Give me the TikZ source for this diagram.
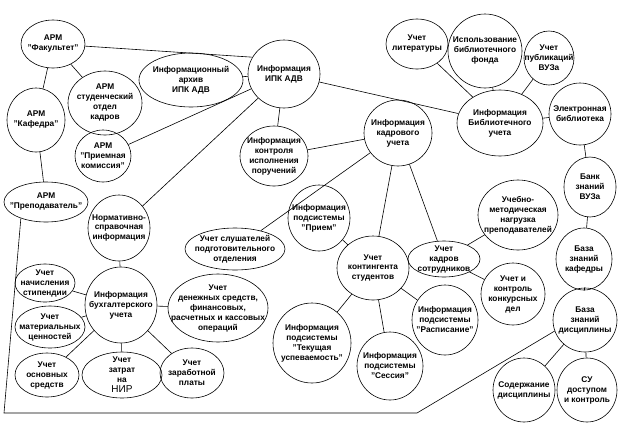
\documentclass[tikz,border=0pt]{standalone}
\usepackage{fontspec}
\setmainfont{Liberation Sans}
\usetikzlibrary{shapes.geometric}
\begin{document}
\begin{tikzpicture}[x=1pt, y=-1pt, line width=0.6pt,
    bub/.style={draw, ellipse, align=center, inner xsep=-16pt, inner ysep=-5pt,
        font=\fontsize{8.3}{10}\selectfont\bfseries},
    sz/.style 2 args={minimum width=#1pt, minimum height=#2pt}]
    \useasboundingbox (0,0) rectangle (619,424);
    % upper left: ARM nodes
    \node[bub, sz={64}{48}] (fak) at (53,44) {АРМ\\"Факультет"};
    \node[bub, sz={58}{64}] (kaf) at (36,120) {АРМ\\"Кафедра"};
    \node[bub, sz={74}{64}] (sok) at (105,103) {АРМ\\студенческий\\отдел\\кадров};
    \node[bub, sz={104}{54}] (arh) at (191,80) {Информационный\\архив\\ИПК АДВ};
    \node[bub, sz={72}{68}] (ipk) at (284,74) {Информация\\ИПК АДВ};
    \node[bub, sz={56}{52}] (prk) at (103,156) {АРМ\\"Приемная\\комиссия"};
    \node[bub, sz={84}{40}] (prep) at (46,202) {АРМ\\"Преподаватель"};
    \node[bub, sz={68}{60}] (kon) at (274,156) {Информация\\контроля\\исполнения\\поручений};
    % library
    \node[bub, sz={68}{66}] (kad) at (398,133) {Информация\\кадрового\\учета};
    \node[bub, sz={62}{50}] (lit) at (417,44) {Учет\\литературы};
    \node[bub, sz={74}{74}] (isp) at (485,51) {Использование\\библиотечного\\фонда};
    \node[bub, sz={50}{54}] (pub) at (549,58) {Учет\\публикаций\\ВУЗа};
    \node[bub, sz={86}{66}] (bib) at (500,123) {Информация\\Библиотечного\\учета};
    \node[bub, sz={62}{62}] (ele) at (580,114) {Электронная\\библиотека};
    \node[bub, sz={52}{60}] (bank) at (590,187) {Банк\\знаний\\ВУЗа};
    \node[bub, sz={80}{70}] (ucheb) at (518,215) {Учебно-\\методическая\\нагрузка\\преподавателей};
    % middle
    \node[bub, sz={62}{66}] (norm) at (119,228) {Нормативно-\\справочная\\информация};
    \node[bub, sz={100}{42}] (slu) at (235,249) {Учет слушателей\\подготовительного\\отделения};
    \node[bub, sz={62}{66}] (pri) at (319,218) {Информация\\подсистемы\\"Прием"};
    \node[bub, sz={72}{64}] (kont) at (373,268) {Учет\\контингента\\студентов};
    \node[bub, sz={72}{36}] (ksot) at (444,259) {Учет\\кадров\\сотрудников};
    \node[bub, sz={64}{62}] (konk) at (513,294) {Учет и\\контроль\\конкурсных\\дел};
    \node[bub, sz={56}{62}] (bkaf) at (584,259) {База\\знаний\\кафедры};
    \node[bub, sz={64}{64}] (bdis) at (585,320) {База\\знаний\\дисциплины};
    \node[bub, sz={66}{70}] (rasp) at (445,320) {Информация\\подсистемы\\"Расписание"};
    \node[bub, sz={66}{68}] (ses) at (390,366) {Информация\\подсистемы\\"Сессия"};
    \node[bub, sz={78}{80}] (tek) at (312,343) {Информация\\подсистемы\\"Текущая\\успеваемость"};
    \node[bub, sz={62}{64}] (sod) at (524,390) {Содержание\\дисциплины};
    \node[bub, sz={60}{64}] (su) at (587,390) {СУ\\доступом\\и контроль};
    % accounting
    \node[bub, sz={72}{76}] (buh) at (121,305) {Информация\\бухгалтерского\\учета};
    \node[bub, sz={60}{38}] (sti) at (45,283) {Учет\\начисления\\стипендии};
    \node[bub, sz={70}{42}] (mat) at (50,327) {Учет\\материальных\\ценностей};
    \node[bub, sz={100}{68}] (den) at (218,308) {Учет\\денежных средств,\\финансовых,\\расчетных и кассовых\\операций};
    \node[bub, sz={64}{44}] (osn) at (47,375) {Учет\\основных\\средств};
    \node[bub, sz={80}{46}] (nir) at (122,375) {Учет\\затрат\\на\\{\fontsize{10}{10}\selectfont\mdseries НИР}};
    \node[bub, sz={64}{50}] (zar) at (192,373) {Учет\\заработной\\платы};
    % connectors
    \draw (fak) -- (kaf);
    \draw (fak) -- (sok);
    \draw (fak) -- (ipk.152);
    \draw (kaf) -- (prep);
    \draw (arh) -- (ipk);
    \draw (ipk) -- (prk);
    \draw (ipk) -- (norm);
    \draw (ipk) -- (kon);
    \draw (ipk) -- (bib);
    \draw (kon) -- (kad);
    \draw (kad) -- (slu);
    \draw (kad) -- (kont);
    \draw (kad) -- (ksot);
    \draw (pri) -- (kont);
    \draw (kont) -- (tek);
    \draw (kont) -- (ses);
    \draw (kont) -- (rasp);
    \draw (ksot) -- (ucheb);
    \draw (ksot) -- (konk);
    \draw (bib) -- (lit);
    \draw (bib) -- (isp);
    \draw (bib) -- (pub);
    \draw (bib) -- (ele);
    \draw (ele) -- (bank);
    \draw (bank) -- (bkaf);
    \draw (bkaf) -- (bdis);
    \draw (bdis) -- (sod);
    \draw (bdis) -- (su);
    \draw (norm) -- (buh);
    \draw (buh) -- (sti);
    \draw (buh) -- (mat);
    \draw (buh) -- (den);
    \draw (buh) -- (osn);
    \draw (buh) -- (nir);
    \draw (buh) -- (zar);
    \coordinate (bl) at (4,413);
    \coordinate (br) at (417,413);
    \draw (prep.213) -- (bl) -- (br) -- (bdis.200);
\end{tikzpicture}
\end{document}
